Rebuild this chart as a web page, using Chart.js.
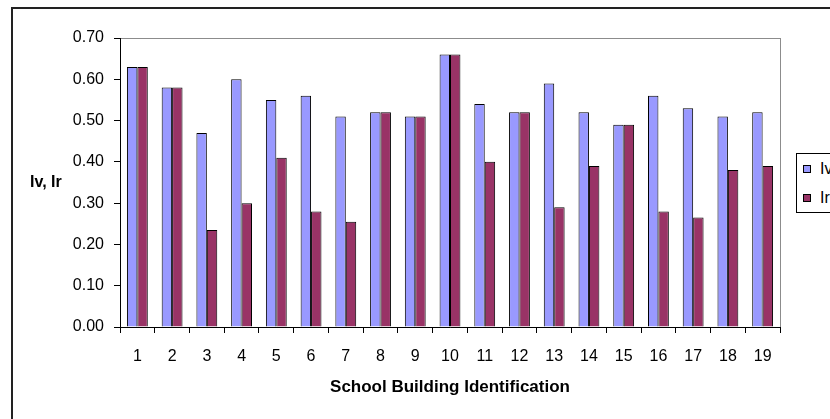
<!DOCTYPE html>
<html>
<head>
<meta charset="utf-8">
<script src="https://cdn.jsdelivr.net/npm/chart.js"></script>
<style>
    body { margin: 0; background: #fff; overflow: hidden; font-family: "Liberation Sans", Arial, sans-serif; }
    .wrap { position: relative; width: 830px; height: 419px; overflow: hidden; }
    .frame { position: absolute; left: 11px; top: 7px; width: 900px; height: 500px; border: 2px solid #222; }
    canvas { position: absolute; left: 0; top: 0; }
    .ytitle { position: absolute; left: 30px; top: 172px; font-weight: bold; font-size: 16px; line-height: 20px; color: #000; }
    .legend { position: absolute; left: 796px; top: 153px; width: 80px; height: 58px; border: 1px solid #000; background: #fff; font-size: 16px; color: #000; }
    .legend div { position: absolute; left: 6px; height: 18px; display: flex; align-items: center; white-space: nowrap; color: #000; }
    .legend span { display: inline-block; width: 6px; height: 6px; border: 1px solid #000; margin-right: 9px; }
</style>
</head>
<body>
<div class="wrap">
    <div class="frame"></div>
    <canvas id="indexChart" width="830" height="419"></canvas>
    <div class="ytitle">Iv, Ir</div>
    <div class="legend" id="legendBox"></div>
</div>
<script>
// 資料
const buildings = ['1', '2', '3', '4', '5', '6', '7', '8', '9', '10', '11', '12', '13', '14', '15', '16', '17', '18', '19'];
const ivValues = [0.63, 0.58, 0.47, 0.60, 0.55, 0.56, 0.51, 0.52, 0.51, 0.66, 0.54, 0.52, 0.59, 0.52, 0.49, 0.56, 0.53, 0.51, 0.52];
const irValues = [0.63, 0.58, 0.235, 0.30, 0.41, 0.28, 0.255, 0.52, 0.51, 0.66, 0.40, 0.52, 0.29, 0.39, 0.49, 0.28, 0.265, 0.38, 0.39];
const yTicks = [0, 0.1, 0.2, 0.3, 0.4, 0.5, 0.6, 0.7];

const tickFont = { family: 'Liberation Sans', size: 16 };

// 圖表外框 (灰色)
const plotFrame = {
    id: 'plotFrame',
    beforeDraw(chart) {
        const { ctx, chartArea: a } = chart;
        ctx.save();
        ctx.strokeStyle = '#8c8c8c';
        ctx.lineWidth = 1;
        ctx.strokeRect(a.left + 0.5, a.top + 0.5, a.right - a.left, a.bottom - a.top);
        ctx.restore();
    }
};

let ctx = document.getElementById('indexChart');
let chart = new Chart(ctx, {
    type: 'bar',
    data: {
        labels: buildings,
        datasets: [{
            label: 'Iv',
            data: ivValues,
            backgroundColor: '#9999ff',
            borderColor: '#000',
            borderWidth: 1
        }, {
            label: 'Ir',
            data: irValues,
            backgroundColor: '#993366',
            borderColor: '#000',
            borderWidth: 1
        }]
    },
    options: {
        responsive: false,
        animation: false,
        layout: { padding: { top: 38, right: 50, left: 0, bottom: 0 } },
        datasets: { bar: { barPercentage: 1, categoryPercentage: 0.6 } },
        scales: {
            x: {
                afterFit: s => { s.height = 92; },
                grid: { drawOnChartArea: false, tickLength: 6, color: '#000', offset: true },
                border: { color: '#000' },
                ticks: { color: '#000', font: tickFont, padding: 14, maxRotation: 0, autoSkip: false },
                title: {
                    display: true,
                    text: 'School Building Identification',
                    color: '#000',
                    font: { family: 'Liberation Sans', size: 17, weight: 'bold' },
                    padding: { top: 4, bottom: 21 }
                }
            },
            y: {
                min: 0,
                max: 0.7,
                afterFit: s => { s.width = 120; },
                afterBuildTicks: s => { s.ticks = yTicks.map(v => ({ value: v })); },
                grid: { drawOnChartArea: false, tickLength: 6, color: '#000' },
                border: { color: '#000' },
                ticks: { color: '#000', font: tickFont, padding: 10, callback: v => v.toFixed(2) }
            }
        },
        plugins: {
            legend: { display: false },
            tooltip: { enabled: false }
        }
    },
    plugins: [plotFrame]
});

// legend
let legendBox = document.getElementById('legendBox');
chart.data.datasets.forEach((ds, i) => {
    let item = document.createElement('div');
    item.style.top = (i === 0 ? 6 : 35) + 'px';
    item.innerHTML = '<span style="background:' + ds.backgroundColor + '"></span>' + ds.label;
    legendBox.appendChild(item);
});
</script>
</body>
</html>
